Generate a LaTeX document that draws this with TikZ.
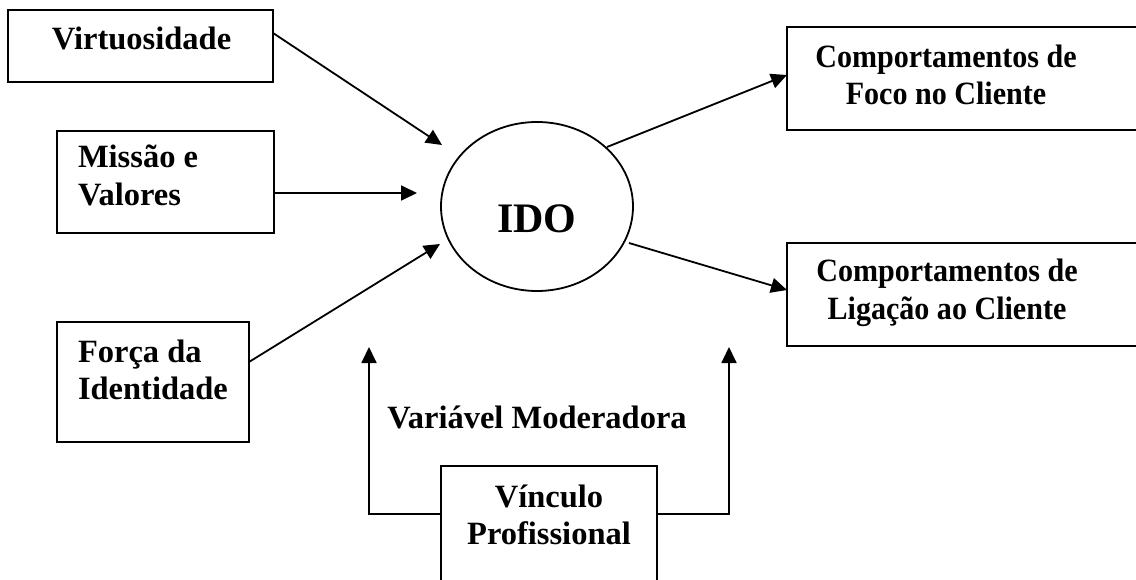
\documentclass[tikz,border=0pt]{standalone}
\usepackage{fontspec}
\setmainfont{Liberation Serif}
\newfontfamily\narrowserif{Liberation Serif}[FakeStretch=0.925]
\usetikzlibrary{arrows.meta,shapes.geometric}
\begin{document}
\begin{tikzpicture}[x=1pt,y=-1pt,
  line width=1.8pt,
  box/.style={draw,rectangle,inner sep=0pt,outer sep=0pt},
  txt/.style={inner sep=0pt,outer sep=0pt,font=\fontsize{32.5}{37.5}\selectfont\bfseries},
  ntxt/.style={inner sep=0pt,outer sep=0pt,font=\narrowserif\fontsize{32.5}{37.5}\selectfont\bfseries},
  conn/.style={-{Triangle[length=16pt,width=15pt]}}]
\useasboundingbox (0,0) rectangle (1136,580);
\fill[white] (0,0) rectangle (1136,580);
\clip (0,0) rectangle (1136,580);
% boxes
\node[box,minimum width=265pt,minimum height=72pt] (virt) at (140.5,46) {};
\node[box,minimum width=217pt,minimum height=102pt] (mis) at (165.5,182) {};
\node[box,minimum width=192pt,minimum height=120pt] (forca) at (153,382) {};
\node[box,minimum width=363pt,minimum height=103pt] (foco) at (968.5,78.5) {};
\node[box,minimum width=363pt,minimum height=103pt] (lig) at (968.5,294.5) {};
\node[box,minimum width=216pt,minimum height=134pt] (vinc) at (549,533) {};
\node[draw,ellipse,inner sep=0pt,outer sep=0pt,minimum width=192pt,minimum height=169pt] (ido) at (537,206.5) {};
% texts
\node[txt,anchor=base] (tvirt) at (141.5,50) {Virtuosidade};
\node[txt,anchor=north west,align=left] (tmis) at (78,141.75) {Missão e\strut\\Valores\strut};
\node[txt,anchor=north west,align=left] (tforca) at (78,335.75) {Força da\strut\\Identidade\strut};
\node[ntxt,anchor=north,align=center] (tfoco) at (946,41.25) {Comportamentos de\strut\\Foco no Cliente\strut};
\node[ntxt,anchor=north,align=center] (tlig) at (947,255.75) {Comportamentos de\strut\\Ligação ao Cliente\strut};
\node[txt,anchor=north,align=center] (tvinc) at (549,480.75) {Vínculo\strut\\Profissional\strut};
\node[txt,anchor=base] (tmod) at (537,428) {Variável Moderadora};
\node[inner sep=0pt,anchor=base,font=\fontsize{42}{48}\selectfont\bfseries] (tido) at (537,233) {IDO};
% connector end points
\coordinate (a1) at (442,145);
\coordinate (a2) at (417,193);
\coordinate (a3) at (440,244);
\coordinate (s1) at (607,147);
\coordinate (s2) at (629,243);
\coordinate (m1) at (369,347);
\coordinate (m2) at (729,347);
% connectors
\draw[conn] (virt.east |- 0,33) -- (a1);
\draw[conn] (mis.east |- 0,193) -- (a2);
\draw[conn] (forca.east |- 0,362) -- (a3);
\draw[conn] (s1) -- (foco.west |- 0,75);
\draw[conn] (s2) -- (lig.west |- 0,290);
\draw[conn] (vinc.west |- 0,514) -| (m1);
\draw[conn] (vinc.east |- 0,514) -| (m2);
\end{tikzpicture}
\end{document}
